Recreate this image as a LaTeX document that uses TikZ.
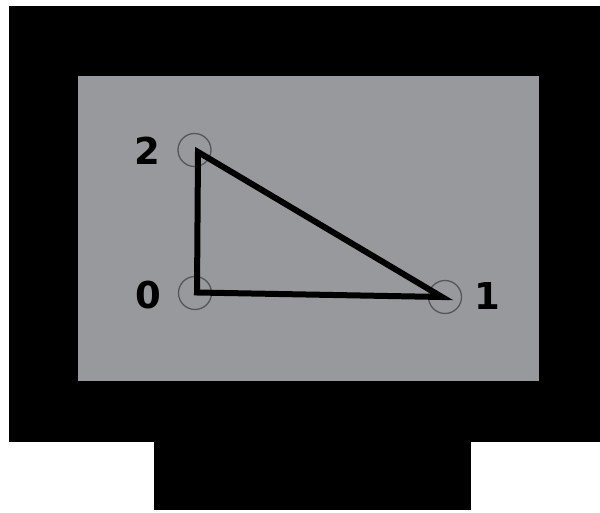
\documentclass[tikz,border=0pt]{standalone}
\usepackage{fontspec}
\setmainfont{DejaVu Sans}
\definecolor{screen}{HTML}{98999D}
\definecolor{ring}{HTML}{55565A}
\tikzset{
  body/.style={fill=black,draw=none},
  panel/.style={fill=screen,draw=none},
  vertex/.style={circle,draw=ring,line width=1.3pt,minimum size=33pt,inner sep=0pt},
  edge/.style={draw=black,line width=6pt,line join=miter},
  lab/.style={font=\fontsize{37}{37}\bfseries\selectfont,text=black,inner sep=0pt}
}
\begin{document}
\begin{tikzpicture}[x=1pt,y=-1pt]
\useasboundingbox (0,0) rectangle (600,513);
\fill[white] (0,0) rectangle (600,513);
\path[body] (9,6) rectangle (600,442);
\path[body] (154,442) rectangle (471,510);
\path[panel] (78,76) rectangle (539,381);
\node[vertex] (c2) at (194.5,150) {};
\node[vertex] (c0) at (195,293) {};
\node[vertex] (c1) at (445,297) {};
\coordinate (v2) at (198,152);
\coordinate (v0) at (197,292.5);
\coordinate (v1) at (442,297);
\path[edge] (v0) -- (v1) -- (v2) -- cycle;
\node[lab] (l2) at (147.5,151) {2};
\node[lab] (l0) at (148.5,295) {0};
\node[lab] (l1) at (487,296) {1};
\end{tikzpicture}
\end{document}
